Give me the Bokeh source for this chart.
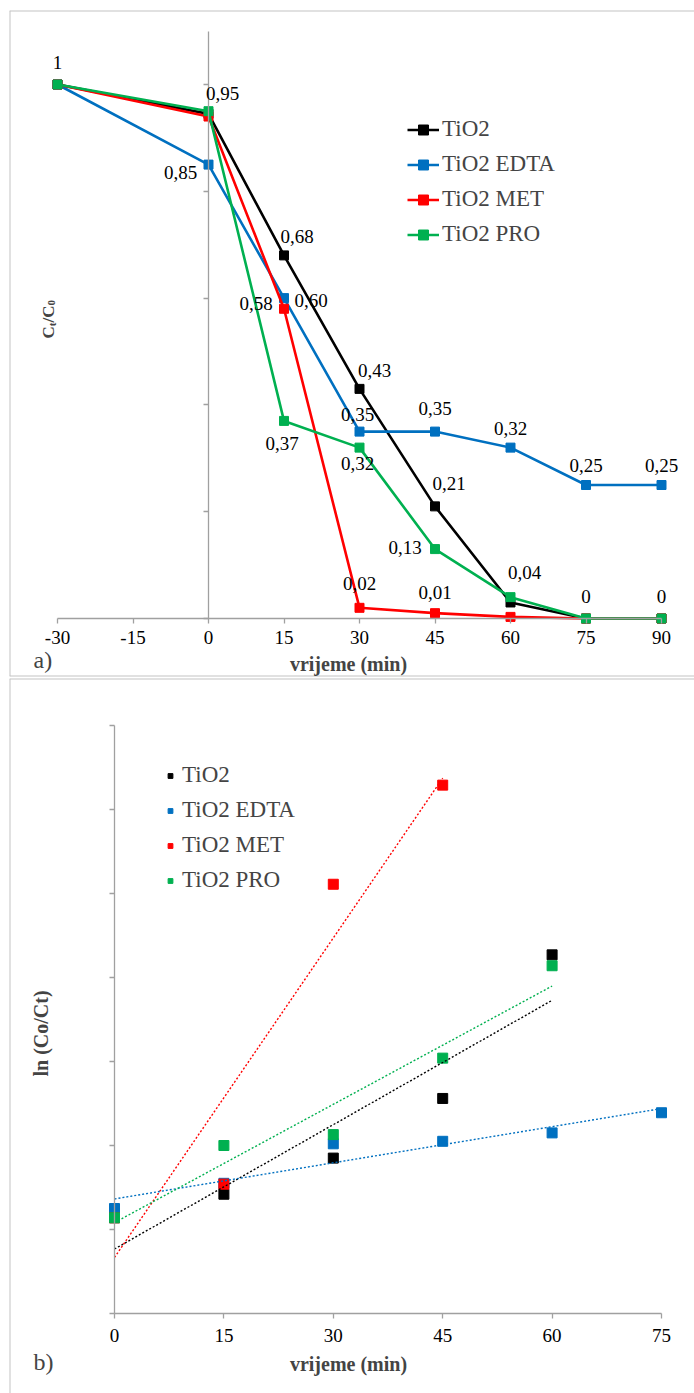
import numpy as np
from bokeh.plotting import figure
from bokeh.models import (ColumnDataSource, FixedTicker, Label, LabelSet, Range1d,
                          Legend, LegendItem, CustomJSTickFormatter, Span)
from bokeh.core.properties import value
from bokeh.layouts import column
from bokeh.embed import file_html
from bokeh.resources import INLINE

# ---------------- data: panel a (Ct/C0 vs time) ----------------
time_a = [-30, 0, 15, 30, 45, 60, 75, 90]
tio2_a = [1.00, 0.945, 0.68, 0.43, 0.21, 0.03, 0.00, 0.00]
edta_a = [1.00, 0.85, 0.60, 0.35, 0.35, 0.32, 0.25, 0.25]
met_a = [1.00, 0.94, 0.58, 0.02, 0.01, 0.003, 0.00, 0.00]
pro_a = [1.00, 0.95, 0.37, 0.32, 0.13, 0.04, 0.00, 0.00]

# ---------------- data: panel b (ln(Co/Ct) vs time) ----------------
time_b = [0, 15, 30, 45, 60, 75]
tio2_b = [1.14, 1.42, 1.85, 2.56, 4.27]
edta_b = [1.25, 1.55, 2.02, 2.05, 2.15, 2.39]
met_b = [1.14, 1.54, 5.11, 6.29]
pro_b = [1.14, 2.00, 2.13, 3.04, 4.14]

names = ["TiO2", "TiO2 EDTA", "TiO2 MET", "TiO2 PRO"]
colors = ["#000000", "#0070C0", "#FF0000", "#00B050"]
xticks_a = [-30, -15, 0, 15, 30, 45, 60, 75, 90]
yticks_a = [0, 0.2, 0.4, 0.6, 0.8, 1.0]
xticks_b = [0, 15, 30, 45, 60, 75]
yticks_b = [0, 1, 2, 3, 4, 5, 6, 7]

# data labels shown on panel a: (series index, point index, dx px, dy px down)
label_spec = [
    (3, 0, 0, -22), (3, 1, 14, -18), (1, 1, -28, 8), (0, 2, 13, -19),
    (2, 2, -28, -5), (1, 2, 27, 2), (0, 3, 15, -18), (1, 3, -2, -17),
    (3, 2, -2, 23), (3, 3, -2, 16), (1, 4, 0, -23), (0, 4, 14, -23),
    (1, 5, 0, -19), (3, 4, -30, -2), (3, 5, 14, -25), (1, 6, 0, -20),
    (1, 7, 0, -20), (2, 3, 0, -24), (2, 4, 0, -21), (3, 6, 0, -22),
    (3, 7, 0, -22),
]

FONT = "Liberation Serif"
AXIS_COLOR = "#a0a0a0"
BORDER_COLOR = "#c4c4c4"
W = 694
H1 = 677
H2 = 716

# ---- layout geometry (page pixels) ----
A_LEFT, A_TOP, A_BOTTOM, A_RIGHT = 9, 10, 676, 694
A_X0PX, A_X1PX = 57, 661      # pixel of x=-30 and x=90
A_Y0PX, A_Y1PX = 618, 84      # pixel of y=0 and y=1
B_LEFT, B_TOP, B_BOTTOM, B_RIGHT = 9, 678, 1393, 694
B_X0PX, B_X1PX = 114, 661     # pixel of x=0 and x=75
B_Y0PX, B_Y1PX = 1313, 725    # pixel of y=0 and y=7


def lin_range(v0, v1, p0, p1, lo, hi):
    k = (v1 - v0) / (p1 - p0)
    return v0 + (lo - p0) * k, v0 + (hi - p0) * k


def fmt(v):
    if v == 1:
        return "1"
    if v == 0:
        return "0"
    return ("%.2f" % v).replace(".", ",")


def style_axis(ax, ticks, show_labels=True, standoff=7):
    ax.ticker = FixedTicker(ticks=ticks)
    ax.axis_line_color = AXIS_COLOR
    ax.axis_line_width = 1.3
    ax.major_tick_line_color = AXIS_COLOR
    ax.major_tick_line_width = 1.3
    ax.major_tick_in = 0
    ax.major_tick_out = 5
    ax.minor_tick_line_color = None
    ax.major_label_text_font = FONT
    ax.major_label_text_font_size = "19px"
    ax.major_label_text_color = "#000000"
    ax.major_label_standoff = standoff
    if show_labels:
        ax.major_label_overrides = {t: str(t) for t in ticks}
    else:
        ax.formatter = CustomJSTickFormatter(code="return ''")


def sx(px, left):
    return px - left


# ================= panel a =================
xa = lin_range(-30, 90, A_X0PX, A_X1PX, A_LEFT, A_RIGHT)
ya = lin_range(0, 1, A_Y0PX, A_Y1PX, A_BOTTOM, A_TOP)
p1 = figure(width=W, height=H1, output_backend="svg", toolbar_location=None,
            x_range=Range1d(*xa), y_range=Range1d(*ya),
            min_border_left=A_LEFT, min_border_right=W - A_RIGHT,
            min_border_top=A_TOP, min_border_bottom=H1 - A_BOTTOM)
p1.xgrid.visible = False
p1.ygrid.visible = False
p1.outline_line_color = None
style_axis(p1.xaxis[0], xticks_a)
style_axis(p1.yaxis[0], yticks_a, show_labels=False)
p1.xaxis[0].fixed_location = 0
p1.xaxis[0].bounds = (xticks_a[0], xticks_a[-1])
p1.yaxis[0].fixed_location = 0
p1.yaxis[0].bounds = (0, 1.1)

for loc, dim in [(xa[0], "height"), (ya[0], "width"), (ya[1], "width")]:
    p1.add_layout(Span(location=loc, dimension=dim, line_color=BORDER_COLOR,
                       line_width=2))

series_a = [tio2_a, edta_a, met_a, pro_a]
items_a = []
for name, col, ys in zip(names, colors, series_a):
    src = ColumnDataSource(dict(x=time_a, y=ys))
    r1 = p1.line("x", "y", source=src, line_color=col, line_width=2.6)
    r2 = p1.scatter("x", "y", source=src, marker="square", size=9,
                    fill_color=col, line_color=col)
    items_a.append(LegendItem(label=name, renderers=[r1, r2]))

lx, ly, lt, ldx, ldy = [], [], [], [], []
for si, pi, dx, dy in label_spec:
    v = series_a[si][pi]
    lx.append(time_a[pi])
    ly.append(v)
    lt.append(fmt(v))
    ldx.append(dx)
    ldy.append(-dy)
lab_src = ColumnDataSource(dict(x=lx, y=ly, text=lt, xo=ldx, yo=ldy))
p1.add_layout(LabelSet(x="x", y="y", text="text", source=lab_src,
                       x_offset="xo", y_offset="yo", text_font=value(FONT),
                       text_font_size=value("19px"), text_align="center",
                       text_baseline="middle", text_color="#000000"))

leg1 = Legend(items=items_a, location=(407 - A_LEFT, A_BOTTOM - 247),
              orientation="vertical",
              glyph_width=32, glyph_height=25, label_height=25, spacing=9,
              label_standoff=3, padding=0, margin=0,
              label_text_font=FONT, label_text_font_size="23px",
              background_fill_alpha=0, border_line_color=None)
p1.add_layout(leg1)

p1.add_layout(Label(x=sx(348, A_LEFT), y=A_BOTTOM - 663, x_units="screen",
                    y_units="screen", text="vrijeme (min)", text_font=FONT,
                    text_font_size="20px", text_font_style="bold",
                    text_align="center", text_baseline="middle"))
p1.add_layout(Label(x=sx(33, A_LEFT), y=A_BOTTOM - 659, x_units="screen",
                    y_units="screen", text="a)", text_font=FONT,
                    text_font_size="24px", text_align="left",
                    text_baseline="middle"))

# composite rotated title C_t / C_0
big, small = 17, 11
bx, subx = sx(48, A_LEFT), sx(51, A_LEFT)
ycur = A_BOTTOM - 338
parts = [("C", big, bx, 0.722), ("t", small, subx, 0.333), ("/", big, bx, 0.278),
         ("C", big, bx, 0.722), ("0", small, subx, 0.5)]
for txt, fs, xx, wem in parts:
    p1.add_layout(Label(x=xx, y=ycur, x_units="screen", y_units="screen",
                        text=txt, text_font=FONT, text_font_size="%dpx" % fs,
                        text_font_style="bold", angle=np.pi / 2,
                        text_align="left", text_baseline="alphabetic"))
    ycur += wem * fs

# ================= panel b =================
xb = lin_range(0, 75, B_X0PX, B_X1PX, B_LEFT, B_RIGHT)
yb = lin_range(0, 7, B_Y0PX, B_Y1PX, B_BOTTOM, B_TOP)
top2 = B_TOP - H1
p2 = figure(width=W, height=H2, output_backend="svg", toolbar_location=None,
            x_range=Range1d(*xb), y_range=Range1d(*yb),
            min_border_left=B_LEFT, min_border_right=W - B_RIGHT,
            min_border_top=top2, min_border_bottom=0)
p2.xgrid.visible = False
p2.ygrid.visible = False
p2.outline_line_color = None
style_axis(p2.xaxis[0], xticks_b, standoff=10)
style_axis(p2.yaxis[0], yticks_b, show_labels=False)
p2.xaxis[0].fixed_location = 0
p2.xaxis[0].bounds = (xticks_b[0], xticks_b[-1])
p2.yaxis[0].fixed_location = 0
p2.yaxis[0].bounds = (yticks_b[0], yticks_b[-1])

for loc, dim in [(xb[0], "height"), (yb[1], "width")]:
    p2.add_layout(Span(location=loc, dimension=dim, line_color=BORDER_COLOR,
                       line_width=2))

series_b = [tio2_b, edta_b, met_b, pro_b]
items_b = []
for name, col, ys in zip(names, colors, series_b):
    xs = time_b[:len(ys)]
    src = ColumnDataSource(dict(x=xs, y=ys))
    r = p2.scatter("x", "y", source=src, marker="square", size=10,
                   fill_color=col, line_color=col)
    items_b.append(LegendItem(label=name, renderers=[r]))

for col, ys in zip(colors, series_b):
    xs = np.array(time_b[:len(ys)], dtype=float)
    k, b = np.polyfit(xs, np.array(ys), 1)
    tx = np.array([xs.min(), xs.max()])
    p2.line(tx, k * tx + b, line_color=col, line_width=1.4, line_dash="2 2")

leg2 = Legend(items=items_b, location=(164 - B_LEFT, B_BOTTOM - 893),
              orientation="vertical",
              glyph_width=12, glyph_height=25, label_height=25, spacing=9,
              label_standoff=6, padding=0, margin=0,
              label_text_font=FONT, label_text_font_size="23px",
              background_fill_alpha=0, border_line_color=None)
p2.add_layout(leg2)

p2.add_layout(Label(x=sx(348, B_LEFT), y=B_BOTTOM - 1363, x_units="screen",
                    y_units="screen", text="vrijeme (min)", text_font=FONT,
                    text_font_size="20px", text_font_style="bold",
                    text_align="center", text_baseline="middle"))
p2.add_layout(Label(x=sx(33, B_LEFT), y=B_BOTTOM - 1361, x_units="screen",
                    y_units="screen", text="b)", text_font=FONT,
                    text_font_size="24px", text_align="left",
                    text_baseline="middle"))
p2.add_layout(Label(x=sx(40, B_LEFT), y=B_BOTTOM - 1033, x_units="screen",
                    y_units="screen", text="ln (Co/Ct)", text_font=FONT,
                    text_font_size="20px", text_font_style="bold",
                    angle=np.pi / 2, text_align="center",
                    text_baseline="middle"))

layout = column(p1, p2, spacing=0)
open("out.html", "w").write(file_html(layout, INLINE))
